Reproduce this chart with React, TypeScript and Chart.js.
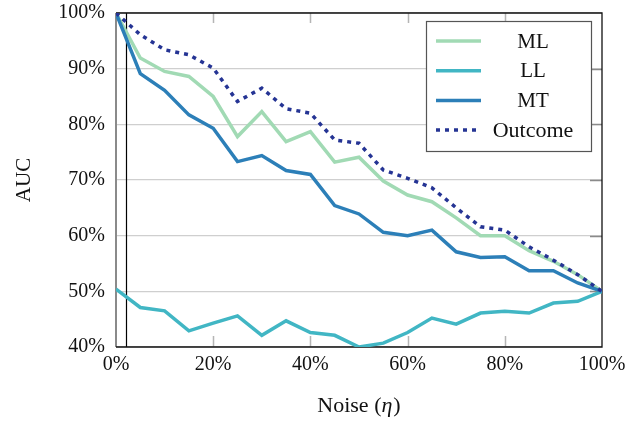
import { useEffect, useRef } from 'react';
import { Chart, registerables } from 'chart.js';

Chart.register(...registerables);

const noiseLevels = [0, 5, 10, 15, 20, 25, 30, 35, 40, 45, 50, 55, 60, 65, 70, 75, 80, 85, 90, 95, 100];
const mlAUC = [100, 91.9, 89.5, 88.6, 85.0, 77.8, 82.3, 76.9, 78.7, 73.2, 74.1, 69.8, 67.3, 66.1, 63.2, 60.0, 60.0, 57.3, 55.4, 53.0, 50.0];
const llAUC = [50.4, 47.1, 46.5, 42.9, 44.3, 45.6, 42.1, 44.7, 42.6, 42.1, 40.0, 40.7, 42.6, 45.2, 44.1, 46.1, 46.4, 46.1, 47.9, 48.2, 50.0];
const mtAUC = [100, 89.1, 86.1, 81.7, 79.3, 73.3, 74.4, 71.7, 71.0, 65.4, 63.9, 60.6, 60.0, 61.0, 57.1, 56.1, 56.2, 53.7, 53.7, 51.5, 50.0];
const outcomeAUC = [100, 96.1, 93.4, 92.5, 90.1, 84.1, 86.5, 82.8, 82.0, 77.2, 76.6, 71.8, 70.3, 68.6, 65.0, 61.6, 61.0, 58.0, 55.6, 53.0, 50.0];
const seriesNames = ['ML', 'LL', 'MT', 'Outcome'];
const xTickValues = [0, 20, 40, 60, 80, 100];
const yTickValues = [40, 50, 60, 70, 80, 90, 100];
const markerLineX = 2;

const COLORS = ['#a1dab4', '#41b6c4', '#2c7fb8', '#253494'];
const DASHES: number[][] = [[], [], [], [4, 5]];
const FONT = '"Liberation Serif", "Times New Roman", serif';

const toPoints = (vals: number[]) => vals.map((v, i) => ({ x: noiseLevels[i], y: v }));

const framePlugin = {
  id: 'frame',
  beforeDatasetsDraw(chart: any) {
    const { ctx, chartArea: a, scales } = chart;
    const xs = scales.x;
    const ys = scales.y;
    ctx.save();
    ctx.lineWidth = 1.5;
    ctx.strokeStyle = '#b5b5b5';
    xTickValues.slice(1, -1).forEach((v) => {
      const px = Math.round(xs.getPixelForValue(v)) + 0.5;
      ctx.beginPath();
      ctx.moveTo(px, a.top);
      ctx.lineTo(px, a.top + 10);
      ctx.moveTo(px, a.bottom - 11);
      ctx.lineTo(px, a.bottom);
      ctx.stroke();
    });
    ctx.strokeStyle = '#8a8a8a';
    yTickValues.slice(1, -1).forEach((v) => {
      const py = Math.round(ys.getPixelForValue(v)) + 0.5;
      ctx.beginPath();
      ctx.moveTo(a.right - 12, py);
      ctx.lineTo(a.right, py);
      ctx.stroke();
    });
    ctx.strokeStyle = '#8a8a8a';
    ctx.lineWidth = 2;
    ctx.beginPath();
    ctx.moveTo(a.left, a.top);
    ctx.lineTo(a.left, a.bottom);
    ctx.stroke();
    const mx = Math.round(xs.getPixelForValue(markerLineX)) + 0.5;
    ctx.strokeStyle = '#000';
    ctx.lineWidth = 1.2;
    ctx.beginPath();
    ctx.moveTo(mx, a.top);
    ctx.lineTo(mx, a.bottom);
    ctx.stroke();
    ctx.strokeStyle = '#111';
    ctx.lineWidth = 1.3;
    ctx.beginPath();
    ctx.moveTo(a.left, a.top);
    ctx.lineTo(a.right, a.top);
    ctx.lineTo(a.right, a.bottom);
    ctx.lineTo(a.left, a.bottom);
    ctx.stroke();
    ctx.restore();
  },
  afterDatasetsDraw(chart: any) {
    const { ctx, chartArea: a } = chart;
    ctx.save();
    const bx = a.right - 176;
    const by = a.top + 8;
    const bw = 165;
    const bh = 130;
    ctx.fillStyle = '#fff';
    ctx.fillRect(bx, by, bw, bh);
    ctx.strokeStyle = '#555';
    ctx.lineWidth = 1.2;
    ctx.strokeRect(bx + 0.5, by + 0.5, bw, bh);
    ctx.font = `21px ${FONT}`;
    ctx.textAlign = 'center';
    ctx.textBaseline = 'middle';
    seriesNames.forEach((name, i) => {
      const ry = by + 20 + i * 29.7;
      ctx.strokeStyle = COLORS[i];
      ctx.lineWidth = 3.5;
      ctx.setLineDash(DASHES[i]);
      ctx.beginPath();
      ctx.moveTo(bx + 10, ry);
      ctx.lineTo(bx + 55, ry);
      ctx.stroke();
      ctx.setLineDash([]);
      ctx.fillStyle = '#111';
      ctx.font = i === 3 ? `22px ${FONT}` : `21px ${FONT}`;
      ctx.fillText(name, bx + 107, ry + 1);
    });
    const cx = (a.left + a.right) / 2;
    const ty = a.bottom + 59;
    const p1 = 'Noise (';
    const p2 = 'η';
    const p3 = ')';
    ctx.textAlign = 'left';
    ctx.font = `22px ${FONT}`;
    const w1 = ctx.measureText(p1).width;
    const w3 = ctx.measureText(p3).width;
    ctx.font = `italic 22px ${FONT}`;
    const w2 = ctx.measureText(p2).width;
    let sx = cx - (w1 + w2 + w3 + 1) / 2;
    ctx.fillStyle = '#111';
    ctx.font = `22px ${FONT}`;
    ctx.fillText(p1, sx, ty);
    sx += w1;
    ctx.font = `italic 22px ${FONT}`;
    ctx.fillText(p2, sx, ty);
    sx += w2 + 1;
    ctx.font = `22px ${FONT}`;
    ctx.fillText(p3, sx, ty);
    ctx.restore();
  },
};

export default function App() {
  const canvasRef = useRef<HTMLCanvasElement | null>(null);

  useEffect(() => {
    if (!canvasRef.current) return;
    const datasets = [mlAUC, llAUC, mtAUC, outcomeAUC].map((vals, i) => ({
      label: seriesNames[i],
      data: toPoints(vals),
      borderColor: COLORS[i],
      backgroundColor: COLORS[i],
      borderWidth: 3.5,
      borderDash: DASHES[i],
      borderCapStyle: 'butt' as const,
      borderJoinStyle: 'miter' as const,
      pointRadius: 0,
      tension: 0,
      fill: false,
      order: 4 - i,
    }));
    const chart = new Chart(canvasRef.current, {
      type: 'line',
      data: { datasets },
      options: {
        animation: false,
        responsive: false,
        devicePixelRatio: 1,
        layout: { padding: { top: 13, right: 35, bottom: 0, left: 0 } },
        plugins: { legend: { display: false }, tooltip: { enabled: false } },
        scales: {
          x: {
            type: 'linear',
            min: 0,
            max: 100,
            afterFit: (s: any) => { s.height = 76; s.paddingLeft = 0; s.paddingRight = 0; },
            afterBuildTicks: (s: any) => { s.ticks = xTickValues.map((v) => ({ value: v })); },
            ticks: {
              callback: (v: any) => `${v}%`,
              padding: 6,
              maxRotation: 0,
              font: { family: FONT, size: 20 },
              color: '#111',
            },
            grid: { display: false, drawTicks: false },
            border: { display: false },
          },
          y: {
            type: 'linear',
            min: 40,
            max: 100,
            afterFit: (s: any) => { s.width = 116; s.paddingTop = 0; s.paddingBottom = 0; },
            afterBuildTicks: (s: any) => { s.ticks = yTickValues.map((v) => ({ value: v })); },
            ticks: {
              callback: (v: any) => `${v}%`,
              padding: 11,
              font: { family: FONT, size: 20 },
              color: '#111',
            },
            grid: { color: '#cfcfcf', lineWidth: 1.3, drawTicks: false },
            border: { display: false },
            title: {
              display: true,
              text: 'AUC',
              font: { family: FONT, size: 21 },
              color: '#111',
              padding: { top: 12, bottom: 0 },
            },
          },
        },
      },
      plugins: [framePlugin],
    });
    return () => chart.destroy();
  }, []);

  return (
    <div style={{ position: 'absolute', left: 0, top: 0, width: 637, height: 423, background: '#fff' }}>
      <canvas ref={canvasRef} width={637} height={423} />
    </div>
  );
}
